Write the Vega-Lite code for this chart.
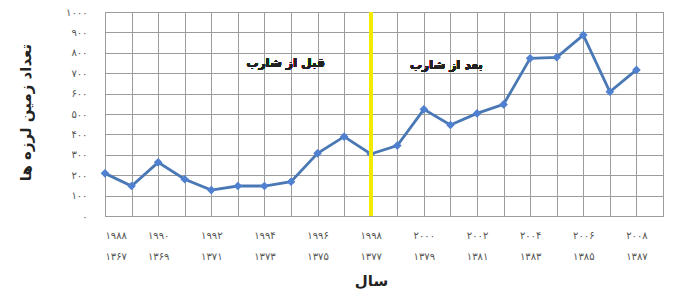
{
  "$schema": "https://vega.github.io/schema/vega-lite/v6.json",
  "autosize": {"type": "none"},
  "width": 558,
  "height": 204,
  "padding": {"left": 105, "top": 12, "right": 10, "bottom": 74},
  "background": "white",
  "config": {
    "view": {"stroke": "#8a8a8a", "strokeWidth": 1},
    "font": "DejaVu Sans"
  },
  "data": {
    "values": [
      {"year": 1988, "count": 209},
      {"year": 1989, "count": 147},
      {"year": 1990, "count": 263},
      {"year": 1991, "count": 180},
      {"year": 1992, "count": 127},
      {"year": 1993, "count": 147},
      {"year": 1994, "count": 147},
      {"year": 1995, "count": 168},
      {"year": 1996, "count": 307},
      {"year": 1997, "count": 389},
      {"year": 1998, "count": 304},
      {"year": 1999, "count": 345},
      {"year": 2000, "count": 523},
      {"year": 2001, "count": 446},
      {"year": 2002, "count": 503},
      {"year": 2003, "count": 547},
      {"year": 2004, "count": 773},
      {"year": 2005, "count": 778},
      {"year": 2006, "count": 887},
      {"year": 2007, "count": 609},
      {"year": 2008, "count": 716}
    ]
  },
  "resolve": {"axis": {"x": "independent", "y": "independent"}},
  "layer": [
    {
      "mark": {"type": "line", "color": "#4a78b5", "strokeWidth": 2.8},
      "encoding": {
        "x": {
          "field": "year", "type": "quantitative",
          "scale": {"domain": [1988, 2009], "nice": false, "zero": false},
          "axis": {
            "values": [1988,1989,1990,1991,1992,1993,1994,1995,1996,1997,1998,1999,2000,2001,2002,2003,2004,2005,2006,2007,2008,2009],
            "format": "d",
            "grid": true, "gridColor": "#9c9c9c", "gridWidth": 1, "gridOpacity": 1,
            "ticks": false, "domain": false,
            "labelOverlap": false,
            "labelFontSize": 10, "labelColor": "#555555",
            "labelPadding": 14, "labelLineHeight": 21, "labelBaseline": "top",
            "labelExpr": "datum.value % 2 == 0 ? [replace(replace(replace(replace(replace(replace(replace(replace(replace(replace(datum.label,regexp('0','g'),'۰'),regexp('1','g'),'۱'),regexp('2','g'),'۲'),regexp('3','g'),'۳'),regexp('4','g'),'۴'),regexp('5','g'),'۵'),regexp('6','g'),'۶'),regexp('7','g'),'۷'),regexp('8','g'),'۸'),regexp('9','g'),'۹'), replace(replace(replace(replace(replace(replace(replace(replace(replace(replace(''+(datum.value-621),regexp('0','g'),'۰'),regexp('1','g'),'۱'),regexp('2','g'),'۲'),regexp('3','g'),'۳'),regexp('4','g'),'۴'),regexp('5','g'),'۵'),regexp('6','g'),'۶'),regexp('7','g'),'۷'),regexp('8','g'),'۸'),regexp('9','g'),'۹')] : ''",
            "title": "سال",
            "titleFont": "DejaVu Sans", "titleFontSize": 15, "titleFontWeight": "bold", "titleColor": "#222222",
            "titleX": 266, "titleY": 64, "titleBaseline": "middle", "titleAlign": "center"
          }
        },
        "y": {
          "field": "count", "type": "quantitative",
          "scale": {"domain": [0, 1000], "nice": false},
          "axis": {
            "values": [0,100,200,300,400,500,600,700,800,900,1000],
            "format": "d",
            "grid": true, "gridColor": "#9c9c9c", "gridWidth": 1, "gridOpacity": 1,
            "ticks": false, "domain": false,
            "labelOverlap": false,
            "labelFontSize": 10, "labelColor": "#555555", "labelPadding": 18,
            "labelExpr": "replace(replace(replace(replace(replace(replace(replace(replace(replace(replace(datum.label,regexp('0','g'),'۰'),regexp('1','g'),'۱'),regexp('2','g'),'۲'),regexp('3','g'),'۳'),regexp('4','g'),'۴'),regexp('5','g'),'۵'),regexp('6','g'),'۶'),regexp('7','g'),'۷'),regexp('8','g'),'۸'),regexp('9','g'),'۹')",
            "title": "تعداد زمین لرزه ها",
            "titleFont": "DejaVu Sans", "titleFontSize": 15, "titleFontWeight": "bold", "titleColor": "#222222",
            "titleX": -80, "titleY": 100, "titleAngle": -90, "titleAlign": "center", "titleBaseline": "middle"
          }
        }
      }
    },
    {
      "mark": {"type": "point", "shape": "diamond", "filled": true, "size": 75, "color": "#4f81d0", "opacity": 1},
      "encoding": {
        "x": {"field": "year", "type": "quantitative", "axis": null},
        "y": {"field": "count", "type": "quantitative", "axis": null}
      }
    },
    {
      "mark": {"type": "rule", "color": "#f2ea00", "strokeWidth": 3},
      "encoding": {
        "x": {"datum": 1998, "type": "quantitative", "axis": null}
      }
    },
    {
      "mark": {"type": "text", "font": "DejaVu Sans", "fontSize": 12, "fontWeight": "bold", "color": "#222222", "text": "قبل از شارب"},
      "encoding": {
        "x": {"datum": 1994.8, "type": "quantitative", "axis": null},
        "y": {"datum": 750, "type": "quantitative", "axis": null}
      }
    },
    {
      "mark": {"type": "text", "font": "DejaVu Sans", "fontSize": 12, "fontWeight": "bold", "color": "#222222", "text": "بعد از شارب"},
      "encoding": {
        "x": {"datum": 2000.85, "type": "quantitative", "axis": null},
        "y": {"datum": 740, "type": "quantitative", "axis": null}
      }
    }
  ]
}
